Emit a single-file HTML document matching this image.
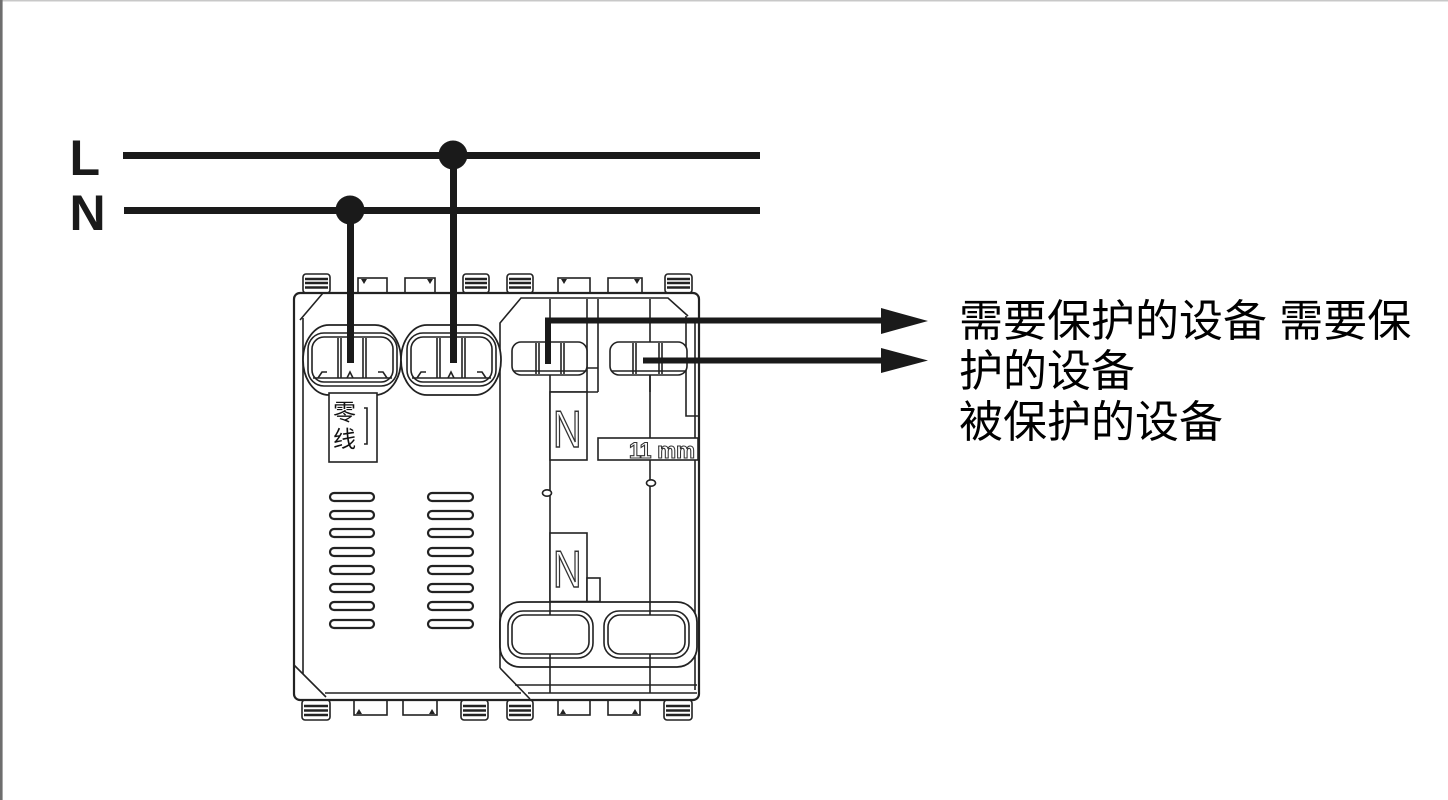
<!DOCTYPE html>
<html><head><meta charset="utf-8"><style>
html,body{margin:0;padding:0;background:#fff;}
svg{display:block;}
</style></head><body>
<svg width="1448" height="800" viewBox="0 0 1448 800" xmlns="http://www.w3.org/2000/svg">
<rect width="1448" height="800" fill="#fff"/>
<rect x="0" y="0" width="1448" height="1.5" fill="#c8c8c8"/>
<rect x="0" y="0" width="2.6" height="800" fill="#6e6e6e"/>

<g stroke="#222" stroke-width="1.6" fill="#fff">
  <!-- top ribbed tabs -->
  <g>
    <rect x="303" y="274" width="27" height="19" rx="3"/>
    <rect x="463" y="274" width="26" height="19" rx="3"/>
    <rect x="507" y="274" width="26" height="19" rx="3"/>
    <rect x="665" y="274" width="27" height="19" rx="3"/>
  </g>
  <g stroke-width="2.4">
    <path d="M305 279H328M305 283H328M305 287.5H328"/>
    <path d="M465 279H487M465 283H487M465 287.5H487"/>
    <path d="M509 279H531M509 283H531M509 287.5H531"/>
    <path d="M667 279H690M667 283H690M667 287.5H690"/>
  </g>
  <!-- top plain tabs -->
  <rect x="358" y="278" width="29" height="15"/>
  <rect x="405" y="278" width="30" height="15"/>
  <rect x="558" y="278" width="32" height="15"/>
  <rect x="608" y="278" width="34" height="15"/>
  <g fill="#222" stroke="none">
    <polygon points="361,279 367,279 364,284"/>
    <polygon points="427,279 433,279 430,284"/>
    <polygon points="561,279 567,279 564,284"/>
    <polygon points="634,279 640,279 637,284"/>
  </g>
  <!-- bottom ribbed tabs -->
  <rect x="302" y="700" width="28" height="20" rx="3"/>
  <rect x="461" y="700" width="27" height="20" rx="3"/>
  <rect x="507" y="700" width="26" height="20" rx="3"/>
  <rect x="664" y="700" width="28" height="20" rx="3"/>
  <g stroke-width="2.4">
    <path d="M304 706H328M304 710.5H328M304 715H328"/>
    <path d="M463 706H486M463 710.5H486M463 715H486"/>
    <path d="M509 706H531M509 710.5H531M509 715H531"/>
    <path d="M666 706H690M666 710.5H690M666 715H690"/>
  </g>
  <!-- bottom plain tabs -->
  <rect x="354" y="700" width="33" height="15"/>
  <rect x="403" y="700" width="34" height="15"/>
  <rect x="558" y="700" width="32" height="15"/>
  <rect x="608" y="700" width="32" height="15"/>
  <g fill="#222" stroke="none">
    <polygon points="356,714 362,714 359,709"/>
    <polygon points="429,714 435,714 432,709"/>
    <polygon points="560,714 566,714 563,709"/>
    <polygon points="632,714 638,714 635,709"/>
  </g>

  <!-- body -->
  <rect x="294" y="293" width="405" height="407" rx="6" stroke-width="2.2"/>
  <g fill="none">
    <!-- left panel -->
    <path d="M323 293 L300 320"/>
    <path d="M303 318 V674"/>
    <path d="M294 665 L326 697"/>
    <path d="M325 693 H521"/>
    <path d="M500 668 V323 L521 298 H668 L688 316"/>
    <path d="M500 668 L530 699"/>
    <!-- right section -->
    <path d="M550 299 V693"/>
    <path d="M650 299 V693"/>
    <path d="M587 299 V392 M598 299 V392 M550 392 H598 M587 368 H598"/>
    <path d="M686 316 V416 H698"/>
    <path d="M515 685 H697 M528 693 H697"/>
    <path d="M695 320 V690"/>
  </g>

  <!-- left terminals figure-8 -->
  <rect x="303" y="325" width="98" height="70" rx="26" ry="35" stroke-width="1.8"/>
  <rect x="401" y="325" width="100" height="70" rx="26" ry="35" stroke-width="1.8"/>
  <rect x="308" y="333" width="89" height="53" rx="16"/>
  <rect x="312" y="337" width="81" height="45" rx="12"/>
  <rect x="407" y="333" width="89" height="53" rx="16"/>
  <rect x="411" y="337" width="81" height="45" rx="12"/>
  <g fill="none">
    <path d="M338 338 V378 M341 338 V378 M363 338 V378 M366 338 V378"/>
    <path d="M313 378 H392"/>
    <path d="M347 378 L350 372 L353 378"/>
    <path d="M318 378 L322 372 H327 M387 378 L383 372 H378"/>
    <path d="M437 338 V378 M440 338 V378 M462 338 V378 M465 338 V378"/>
    <path d="M412 378 H491"/>
    <path d="M448 378 L451 372 L454 378"/>
    <path d="M417 378 L421 372 H426 M486 378 L482 372 H477"/>
  </g>

  <!-- right upper terminals -->
  <rect x="512" y="342" width="75" height="33" rx="9"/>
  <rect x="610" y="342" width="77" height="33" rx="9"/>
  <g fill="none">
    <path d="M536 343 V374 M539 343 V374 M561 343 V374 M564 343 V374"/>
    <path d="M514 371 H585"/>
    <path d="M633 343 V374 M636 343 V374 M659 343 V374 M662 343 V374"/>
    <path d="M612 371 H685"/>
    <path d="M650 375 V392"/>
  </g>

  <!-- N boxes -->
  <rect x="550" y="392" width="37" height="68"/>
  <rect x="550" y="533" width="37" height="69"/>
  <rect x="587" y="578" width="13" height="24"/>
  <path d="M550 602 H600" stroke-width="2.5" fill="none"/>
  <!-- 11mm box -->
  <rect x="598" y="438" width="100" height="22"/>

  <!-- small ovals -->
  <ellipse cx="547" cy="493" rx="4.5" ry="3.2"/>
  <ellipse cx="651" cy="483" rx="4.5" ry="3.2"/>

  <!-- lower terminals -->
  <rect x="500" y="602" width="197" height="65" rx="20" stroke-width="1.8"/>
  <rect x="508" y="611" width="85" height="47" rx="15"/>
  <rect x="512" y="615" width="77" height="39" rx="12"/>
  <rect x="604" y="611" width="85" height="47" rx="15"/>
  <rect x="608" y="615" width="77" height="39" rx="12"/>
  <path d="M550 602 V615 M550 654 V668 M650 602 V615 M650 654 V668" fill="none"/>

  <!-- vents -->
  <g stroke-width="2.2">
    <rect x="330" y="493" width="44" height="8" rx="4"/>
    <rect x="330" y="511" width="44" height="8" rx="4"/>
    <rect x="330" y="529" width="44" height="8" rx="4"/>
    <rect x="330" y="548" width="44" height="8" rx="4"/>
    <rect x="330" y="566" width="44" height="8" rx="4"/>
    <rect x="330" y="584" width="44" height="8" rx="4"/>
    <rect x="330" y="602" width="44" height="8" rx="4"/>
    <rect x="330" y="620" width="44" height="8" rx="4"/>
    <rect x="428" y="493" width="45" height="8" rx="4"/>
    <rect x="428" y="511" width="45" height="8" rx="4"/>
    <rect x="428" y="529" width="45" height="8" rx="4"/>
    <rect x="428" y="548" width="45" height="8" rx="4"/>
    <rect x="428" y="566" width="45" height="8" rx="4"/>
    <rect x="428" y="584" width="45" height="8" rx="4"/>
    <rect x="428" y="602" width="45" height="8" rx="4"/>
    <rect x="428" y="620" width="45" height="8" rx="4"/>
  </g>

  <!-- label box -->
  <rect x="329" y="393" width="48" height="69"/>
  <path d="M364 408 H367 V444 H364" fill="none"/>
</g>

<!-- label text -->
<g font-family="Liberation Sans, Noto Sans CJK SC, sans-serif" font-size="23" fill="#111">
  <text x="333" y="420">零</text>
  <text x="333" y="447">线</text>
</g>

<!-- N glyphs and 11mm -->
<g font-family="Liberation Sans, sans-serif" fill="#fff" stroke="#333" stroke-width="1.6">
  <text x="0" y="0" font-size="52" transform="translate(553,447) scale(0.76,1)">N</text>
  <text x="0" y="0" font-size="52" transform="translate(553,587) scale(0.76,1)">N</text>
  <text x="0" y="0" font-size="22" font-weight="bold" textLength="66" lengthAdjust="spacingAndGlyphs" stroke-width="1.1" transform="translate(629,458) scale(1,1.0)">11 mm</text>
</g>

<!-- supply lines -->
<g fill="#1a1a1a">
  <rect x="123" y="152" width="637" height="7"/>
  <rect x="124" y="207" width="636" height="7"/>
  <circle cx="453" cy="155" r="14.5"/>
  <circle cx="350" cy="210" r="14.5"/>
  <rect x="347" y="210" width="7" height="153"/>
  <rect x="450" y="155" width="7" height="208"/>
</g>

<!-- output arrows -->
<g fill="none" stroke="#1a1a1a" stroke-width="6">
  <path d="M548 364 V320.5 H884"/>
  <path d="M643 360.5 H884"/>
</g>
<g fill="#1a1a1a">
  <polygon points="881,308 928,321 881,334"/>
  <polygon points="881,348 928,360.5 881,373"/>
</g>

<!-- L / N labels -->
<g font-family="Liberation Sans, sans-serif" font-weight="bold" font-size="50" fill="#1a1a1a">
  <text x="69.5" y="175">L</text>
  <text x="69.5" y="230">N</text>
</g>

<!-- right text -->
<g font-family="Liberation Sans, Noto Sans CJK SC, sans-serif" font-size="44" fill="#000">
  <text x="959" y="336">需要保护的设备 需要保</text>
  <text x="959" y="386">护的设备</text>
  <text x="959" y="437">被保护的设备</text>
</g>
</svg>
</body></html>
